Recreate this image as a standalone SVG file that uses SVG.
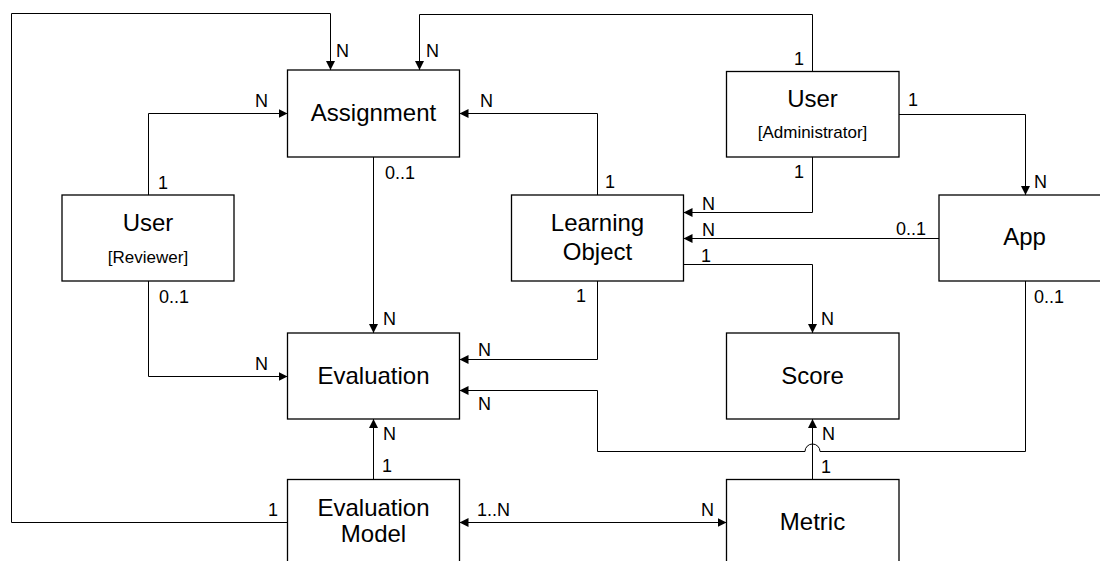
<svg xmlns="http://www.w3.org/2000/svg" width="1100" height="561" viewBox="0 0 1100 561">
<style>
.box{fill:#fff;stroke:#000;stroke-width:1.3}
.t{font-family:"Liberation Sans",Arial,sans-serif;font-size:24px;fill:#000;text-anchor:middle}
.s{font-family:"Liberation Sans",Arial,sans-serif;font-size:17px;fill:#000;text-anchor:middle}
.l{font-family:"Liberation Sans",Arial,sans-serif;font-size:18px;fill:#000}
.c{fill:none;stroke:#000;stroke-width:1}
</style>
<defs>
<marker id="arr" viewBox="0 0 9 9" refX="9" refY="4.5" markerWidth="9" markerHeight="9" markerUnits="userSpaceOnUse" orient="auto-start-reverse">
<path d="M0,0 L9,4.5 L0,9 z" fill="#000"/>
</marker>
</defs>
<rect width="1100" height="561" fill="#fff"/>
<g id="connectors">
<path class="c" d="M287.5,522.5 H11.5 V13.5 H330.5 V70" marker-end="url(#arr)"/>
<path class="c" d="M812.5,71.5 V14.5 H419.5 V70" marker-end="url(#arr)"/>
<path class="c" d="M148.5,195 V113.5 H287.5" marker-end="url(#arr)"/>
<path class="c" d="M597.5,195 V113.5 H459.5" marker-end="url(#arr)"/>
<path class="c" d="M899,114.5 H1025.5 V195" marker-end="url(#arr)"/>
<path class="c" d="M812.5,157 V212.5 H683.5" marker-end="url(#arr)"/>
<path class="c" d="M939,238.5 H683.5" marker-end="url(#arr)"/>
<path class="c" d="M683.5,264.5 H812.5 V333" marker-end="url(#arr)"/>
<path class="c" d="M373.5,157 V333" marker-end="url(#arr)"/>
<path class="c" d="M148.5,281 V376.5 H287.5" marker-end="url(#arr)"/>
<path class="c" d="M597.5,281 V359.5 H459.5" marker-end="url(#arr)"/>
<path class="c" d="M1025.5,281 V451.5 H820 A7.5,7.5 0 0 0 805,451.5 H597.5 V390.5 H459.5" marker-end="url(#arr)"/>
<path class="c" d="M373.5,479.5 V419" marker-end="url(#arr)"/>
<path class="c" d="M812.5,479.5 V419" marker-end="url(#arr)"/>
<path class="c" d="M459.5,522.5 H726.5" marker-start="url(#arr)" marker-end="url(#arr)"/>
</g>
<g id="assignment"><rect class="box" x="287.5" y="70" width="172" height="87"/><text class="t" x="373.5" y="121">Assignment</text></g>
<g id="user-reviewer"><rect class="box" x="62" y="195" width="172" height="86"/><text class="t" x="148" y="231">User</text><text class="s" x="148" y="263">[Reviewer]</text></g>
<g id="user-admin"><rect class="box" x="726.5" y="71.5" width="172.5" height="85.5"/><text class="t" x="812.5" y="107">User</text><text class="s" x="812.5" y="138">[Administrator]</text></g>
<g id="learning-object"><rect class="box" x="511.5" y="195" width="172" height="86"/><text class="t" x="597.5" y="231">Learning</text><text class="t" x="597.5" y="260">Object</text></g>
<g id="app"><rect class="box" x="939" y="195" width="172" height="86"/><text class="t" x="1024.5" y="245">App</text></g>
<g id="evaluation"><rect class="box" x="287.5" y="333" width="172" height="86"/><text class="t" x="373.5" y="384">Evaluation</text></g>
<g id="score"><rect class="box" x="726.5" y="333" width="172.5" height="86"/><text class="t" x="812.5" y="384">Score</text></g>
<g id="evaluation-model"><rect class="box" x="287.5" y="479.5" width="172" height="86"/><text class="t" x="373.5" y="516">Evaluation</text><text class="t" x="373.5" y="542">Model</text></g>
<g id="metric"><rect class="box" x="726.5" y="479.5" width="172.5" height="86"/><text class="t" x="812.5" y="530">Metric</text></g>
<g id="labels">
<text class="l" x="336" y="57">N</text>
<text class="l" x="426" y="57">N</text>
<text class="l" x="255" y="107">N</text>
<text class="l" x="480" y="107">N</text>
<text class="l" x="385" y="179">0..1</text>
<text class="l" x="158" y="189">1</text>
<text class="l" x="794" y="65">1</text>
<text class="l" x="908" y="106">1</text>
<text class="l" x="794" y="178">1</text>
<text class="l" x="1034" y="188">N</text>
<text class="l" x="605" y="188">1</text>
<text class="l" x="702" y="210">N</text>
<text class="l" x="702" y="236">N</text>
<text class="l" x="896" y="235">0..1</text>
<text class="l" x="701" y="262">1</text>
<text class="l" x="576" y="302">1</text>
<text class="l" x="821" y="325">N</text>
<text class="l" x="1034" y="303">0..1</text>
<text class="l" x="383" y="325">N</text>
<text class="l" x="255" y="370">N</text>
<text class="l" x="159" y="303">0..1</text>
<text class="l" x="478" y="356">N</text>
<text class="l" x="478" y="410">N</text>
<text class="l" x="383" y="440">N</text>
<text class="l" x="382" y="472">1</text>
<text class="l" x="268" y="516">1</text>
<text class="l" x="477" y="516">1..N</text>
<text class="l" x="701" y="516">N</text>
<text class="l" x="822" y="440">N</text>
<text class="l" x="821" y="473">1</text>
</g>
</svg>
